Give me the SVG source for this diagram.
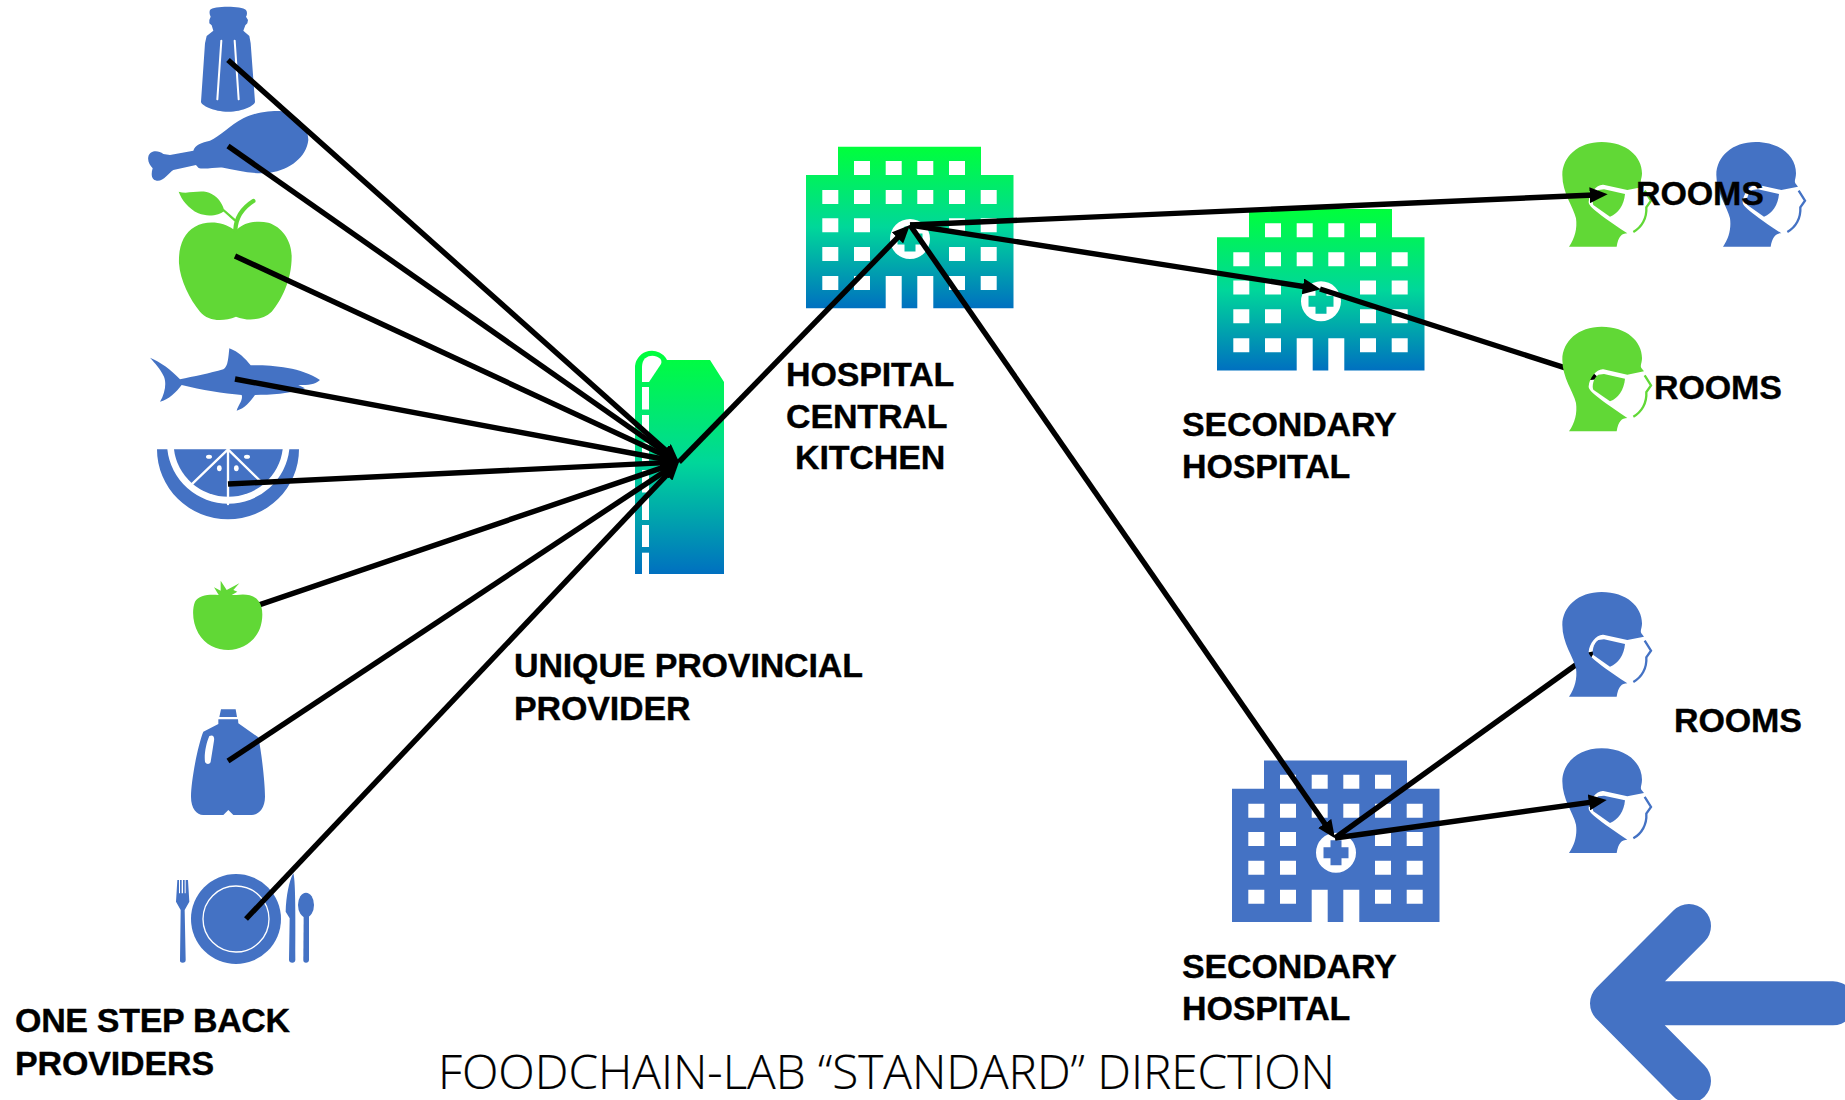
<svg xmlns="http://www.w3.org/2000/svg" xmlns:xlink="http://www.w3.org/1999/xlink" width="1845" height="1100" viewBox="0 0 1845 1100">
<style>
.b{fill:#4472C4}.g{fill:#61D836}.w{fill:#fff}
.ws{fill:none;stroke:#fff;stroke-linecap:round}
.lbl{font-family:"Liberation Sans",Arial,sans-serif;font-weight:700;font-size:34px;fill:#000;stroke:#000;stroke-width:.35px;letter-spacing:-.15px}
.title{font-family:"Open Sans","Liberation Sans",sans-serif;font-weight:300;font-size:47px;fill:#000;stroke:#000;stroke-width:.2px}
.cn{stroke:#000;stroke-width:5.4;fill:none;marker-end:url(#ah)}
.strap{fill:none;stroke-width:7}
</style>
<defs>
<linearGradient id="grad" x1="0" y1="0" x2="0" y2="1"><stop offset="0" stop-color="#00FF3B"/><stop offset=".5" stop-color="#00D79A"/><stop offset="1" stop-color="#0070C0"/></linearGradient>
<marker id="ah" markerUnits="userSpaceOnUse" viewBox="0 0 18 16" markerWidth="18" markerHeight="16" refX="10" refY="8" orient="auto"><path d="M0 0L18 8L0 16z" fill="#000"/></marker>
<path id="hosp" fill-rule="evenodd" d="M32 0H175V28.300H207.500V161.600H127.300V129.300H111.300V161.600H95.700V129.300H79.700V161.600H0V28.300H32Z
M48 14.300h16v14h-16zM79.700 14.300h16v14h-16zM111.300 14.300h16v14h-16zM143 14.300h16v14h-16z
M16.300 43.300h16v14h-16zM48 43.300h16v14h-16zM79.700 43.300h16v14h-16zM111.300 43.300h16v14h-16zM143 43.300h16v14h-16zM174.700 43.300h16v14h-16z
M16.300 71.600h16v14h-16zM48 71.600h16v14h-16zM143 71.600h16v14h-16zM174.700 71.600h16v14h-16z
M16.300 100.300h16v14h-16zM48 100.300h16v14h-16zM143 100.300h16v14h-16zM174.700 100.300h16v14h-16z
M16.300 129.300h16v14h-16zM48 129.300h16v14h-16zM143 129.300h16v14h-16zM174.700 129.300h16v14h-16z
M84 92.300a20 20 0 1 0 40 0a20 20 0 1 0 -40 0z
M98.500 79.800h11v7h7v11h-7v7h-11v-7h-7v-11h7z"/>
<g id="head">
<path d="M87 350C105 325 112 295 108 265C100 230 67 190 67 135C67 80 115 36 185 36C260 36 306 80 306 130C306 145 300 152 304 160L312 170L262 180L190 164C170 162 148 190 146 215C146 225 150 235 262 310C245 310 235 320 230 350Z"/>
<path d="M192 178L255 192C252 225 235 250 210 260L160 225C155 215 160 190 175 180Z"/>
</g>
<path id="strap" class="strap" d="M314 182L333 212L319 232C321 265 305 292 280 306"/>
</defs>
<rect width="1845" height="1100" fill="#fff"/>

<g id="salt" transform="translate(130,0) scale(.33333)">
<path class="b" d="M240 30C250 17 335 17 348 30C352 35 352 45 348 50L354 60L352 70L346 76L340 92L358 108L362 130L375 305C375 315 340 335 295 335C250 335 213 315 213 305L225 130L230 108L250 92L245 76L238 70L238 60L242 50C238 42 238 35 240 30Z"/>
<path class="ws" stroke-width="6" d="M274 122L262 298M314 122L326 298"/>
</g>
<g id="chicken" transform="translate(130,0) scale(.33333)">
<path class="b" d="M55 470C60 450 85 450 100 462L120 465L190 452C195 435 215 428 240 422C270 410 300 375 340 355C380 335 420 333 450 333C500 340 535 380 535 420C530 470 480 510 420 518C370 525 320 510 280 503C260 500 220 510 205 503L198 495L130 510C115 520 100 545 80 542C65 540 62 525 68 505C60 495 52 485 55 470Z"/>
</g>
<g id="apple" transform="translate(130,0) scale(.33333)">
<path class="g" d="M310 688C280 665 230 660 195 680C160 700 145 740 147 790C150 840 180 900 210 935C235 965 280 965 318 950C355 965 400 960 425 935C455 900 485 840 485 770C485 720 455 680 415 668C380 660 340 668 322 688Z"/>
<path d="M316 690C318 650 340 622 370 603" fill="none" stroke="#61D836" stroke-width="13" stroke-linecap="round"/>
<path class="g" d="M146 575C175 585 215 565 245 582C270 595 280 620 283 632C270 645 235 652 205 640C175 625 155 600 146 575Z"/>
<path d="M280 630L316 662" fill="none" stroke="#61D836" stroke-width="7"/>
</g>
<g id="shark" transform="translate(130,340) scale(.33333)">
<path class="b" d="M60 53C90 65 125 90 150 118C190 110 240 100 280 88C295 80 295 50 298 25C325 35 345 55 362 76C420 75 510 80 570 120C560 130 540 137 505 135L525 145C480 162 420 165 375 165C360 185 345 205 320 212C325 195 340 180 335 165C280 160 215 150 155 135C140 155 115 180 90 185C105 160 110 130 102 110C90 85 75 70 60 53Z"/>
</g>
<g id="citrus" transform="translate(130,340) scale(.33333)">
<path class="b" d="M81 328A213 210 0 0 0 507 328H478A184 182 0 0 1 112 328Z"/>
<path class="b" d="M132 328H458A164 160 0 0 1 132 328Z"/>
<path class="ws" stroke-width="7" d="M294 328V492M294 328L178 440M294 328L400 432"/>
<g class="w"><ellipse cx="237" cy="350" rx="9" ry="6"/><ellipse cx="351" cy="350" rx="9" ry="6"/><ellipse cx="268" cy="385" rx="7" ry="9"/><ellipse cx="319" cy="385" rx="7" ry="9"/></g>
</g>
<g id="jug" transform="translate(150,680) scale(.33333)">
<path class="b" d="M213 88H257L261 111H208ZM205 118H264L265 130L325 172C335 220 345 310 345 350C345 385 325 405 305 405H250L235 390L220 405H160C140 405 123 385 123 350C123 300 145 190 160 155L205 132Z"/>
<path class="w" d="M178 168C190 162 194 172 192 182L182 245C180 254 168 254 165 245C162 225 168 190 178 168Z"/>
</g>
<g id="plate" transform="translate(150,680) scale(.33333)">
<circle class="b" cx="258" cy="717" r="135"/>
<circle cx="258" cy="717" r="99" fill="none" stroke="#fff" stroke-width="4"/>
<path class="b" d="M82 600H87V640H90V600H95V640H99V600H104V640H107V600H114L118 665L104 690L107 840Q107 848 98 848Q89 848 90 840L92 690L78 665Z"/>
<path class="b" d="M430 580C436 600 437 680 436 840Q435 848 427 848Q418 848 417 840L419 715L407 695C408 650 418 600 430 580Z"/>
<ellipse class="b" cx="468" cy="675" rx="24" ry="37"/>
<path class="b" d="M461 705H477V840Q476 848 468 848Q460 848 460 840Z"/>
</g>

<g id="provider">
<path fill="url(#grad)" d="M635 574V366A17 17 0 0 1 667 360H710L724 382V574Z"/>
<g class="w">
<path d="M642 382V367C642 350 665 355 661 364L649 382Z"/>
<rect x="642" y="387" width="7" height="22.500"/><rect x="642" y="415" width="7" height="22"/><rect x="642" y="442.500" width="7" height="22.500"/><rect x="642" y="470" width="7" height="22.500"/><rect x="642" y="497.500" width="7" height="22.500"/><rect x="642" y="525" width="7" height="22"/><rect x="642" y="552.700" width="7" height="21.300"/>
</g>
</g>
<use id="hospital-central" href="#hosp" xlink:href="#hosp" x="806" y="146.700" fill="url(#grad)"/>
<use id="hospital-secondary-1" href="#hosp" xlink:href="#hosp" x="1217" y="209" fill="url(#grad)"/>
<use id="hospital-secondary-2" href="#hosp" xlink:href="#hosp" x="1232" y="760.400" fill="#4472C4"/>

<g id="head-green-1" transform="translate(1540,130) scale(.33333)" fill="#61D836" stroke="#61D836"><use href="#head" xlink:href="#head" stroke="none"/><use href="#strap" xlink:href="#strap"/></g>
<g id="head-blue-1" transform="translate(1694,130) scale(.33333)" fill="#4472C4" stroke="#4472C4"><use href="#head" xlink:href="#head" stroke="none"/><use href="#strap" xlink:href="#strap"/></g>
<g id="head-blue-3" transform="translate(1540,736.300) scale(.33333)" fill="#4472C4" stroke="#4472C4"><use href="#head" xlink:href="#head" stroke="none"/><use href="#strap" xlink:href="#strap"/></g>

<g id="connectors">
<path class="cn" d="M228 60L673 456.700"/>
<path class="cn" d="M228 146L672.400 457.400"/>
<path class="cn" d="M235 256L671.700 458.600"/>
<path class="cn" d="M235 379L671.100 460.500"/>
<path class="cn" d="M228 484L671 462.400"/>
<path class="cn" d="M228 615.500L671.400 464.600"/>
<path class="cn" d="M228 761L672.300 466.400"/>
<path class="cn" d="M246 919L673.500 467.800"/>
<path class="cn" d="M679 462L904.400 230.700"/>
<path class="cn" d="M910 225L1599.700 194.700"/>
<path class="cn" d="M910 225L1312.800 288"/>
<path class="cn" d="M1320 289L1592.400 376.600"/>
<path class="cn" d="M910 225L1330.400 831.700"/>
<path class="cn" d="M1335 838L1588.500 655.700"/>
<path class="cn" d="M1335 838L1598.800 801.100"/>
</g>

<g id="tomato" transform="translate(130,340) scale(.33333)">
<path class="g" d="M265 765C240 762 205 765 195 785C185 810 188 850 205 880C225 915 260 930 295 930C335 930 375 905 390 865C400 835 400 800 385 782C370 762 340 762 320 765Z"/>
<path class="g" d="M268 768L252 742L272 752L272 722L290 750L328 730L310 750L322 755L300 768Z"/>
</g>
<g id="head-green-2" transform="translate(1540,314.700) scale(.33333)" fill="#61D836" stroke="#61D836"><use href="#head" xlink:href="#head" stroke="none"/><use href="#strap" xlink:href="#strap"/></g>
<g id="head-blue-2" transform="translate(1540,580) scale(.33333)" fill="#4472C4" stroke="#4472C4"><use href="#head" xlink:href="#head" stroke="none"/><use href="#strap" xlink:href="#strap"/></g>

<path id="direction-arrow" d="M1689 926L1612 1003.300L1689 1081M1612 1003.300H1833" fill="none" stroke="#4472C4" stroke-width="44" stroke-linecap="round" stroke-linejoin="round"/>

<g id="labels">
<text class="lbl" x="15" y="1032" textLength="275">ONE STEP BACK</text>
<text class="lbl" x="15" y="1075">PROVIDERS</text>
<text class="lbl" x="514" y="677">UNIQUE PROVINCIAL</text>
<text class="lbl" x="514" y="720">PROVIDER</text>
<text class="lbl" x="786" y="386">HOSPITAL</text>
<text class="lbl" x="786" y="428">CENTRAL</text>
<text class="lbl" x="795" y="469">KITCHEN</text>
<text class="lbl" x="1182" y="436">SECONDARY</text>
<text class="lbl" x="1182" y="478">HOSPITAL</text>
<text class="lbl" x="1182" y="978">SECONDARY</text>
<text class="lbl" x="1182" y="1020">HOSPITAL</text>
<text class="lbl" x="1636" y="205">ROOMS</text>
<text class="lbl" x="1654" y="399">ROOMS</text>
<text class="lbl" x="1674" y="732">ROOMS</text>
<text class="title" x="438" y="1089" textLength="897" lengthAdjust="spacingAndGlyphs">FOODCHAIN-LAB “STANDARD” DIRECTION</text>
</g>
</svg>
